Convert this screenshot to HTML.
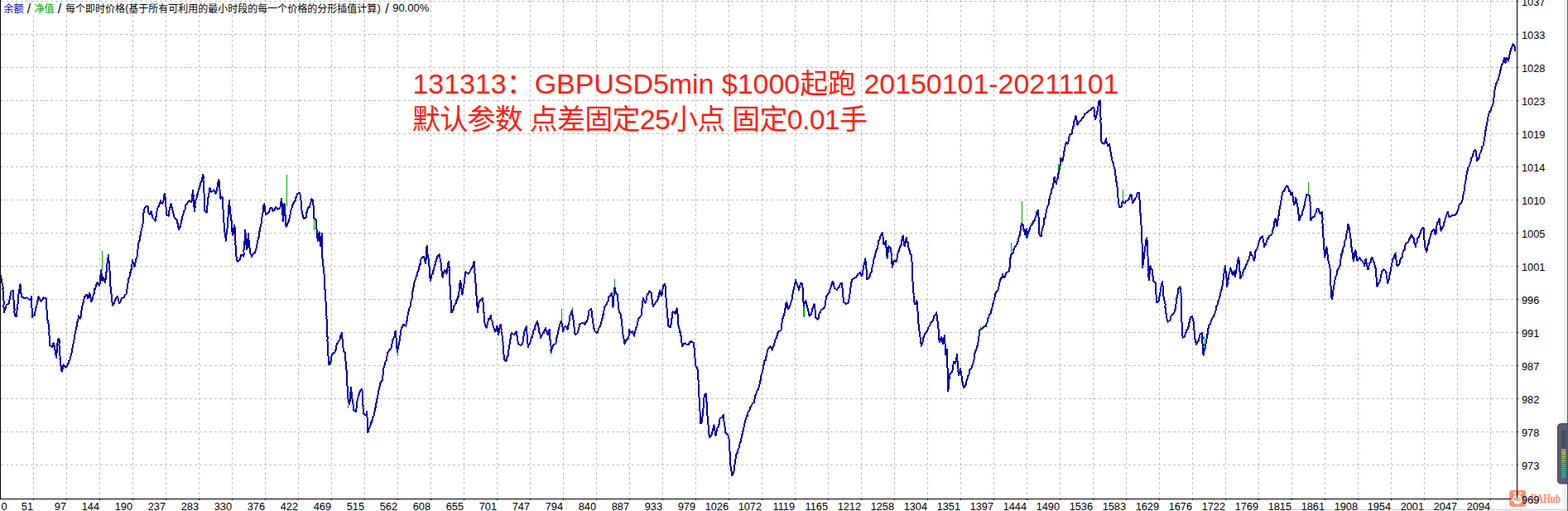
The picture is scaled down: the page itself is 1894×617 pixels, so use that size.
<!DOCTYPE html>
<html lang="zh"><head><meta charset="utf-8"><title>Strategy Tester Graph</title>
<style>
html,body{margin:0;padding:0;background:#fff}
body{width:1894px;height:617px;overflow:hidden;position:relative;font-family:"Liberation Sans",sans-serif}
svg{position:absolute;left:0;top:0;display:block}
text{font-family:"Liberation Sans",sans-serif}
.ax{font-size:12.8px;fill:#000}
.sr{position:absolute;left:0;top:0;color:transparent;font-size:1px;line-height:1px;white-space:nowrap;overflow:hidden;width:1px;height:1px}
</style></head><body>
<svg width="1894" height="617" viewBox="0 0 1894 617">
<rect width="1894" height="617" fill="#fff"/>
<path d="M40.5 0V602M80.5 0V602M120.5 0V602M160.5 0V602M200.5 0V602M240.5 0V602M280.5 0V602M320.5 0V602M360.5 0V602M400.5 0V602M440.5 0V602M480.5 0V602M520.5 0V602M560.5 0V602M600.5 0V602M640.5 0V602M680.5 0V602M720.5 0V602M760.5 0V602M800.5 0V602M840.5 0V602M880.5 0V602M920.5 0V602M960.5 0V602M1000.5 0V602M1040.5 0V602M1080.5 0V602M1120.5 0V602M1160.5 0V602M1200.5 0V602M1240.5 0V602M1280.5 0V602M1320.5 0V602M1360.5 0V602M1400.5 0V602M1440.5 0V602M1480.5 0V602M1520.5 0V602M1560.5 0V602M1600.5 0V602M1640.5 0V602M1680.5 0V602M1720.5 0V602M1760.5 0V602M1800.5 0V602" stroke="#c0c0c0" stroke-width="1" stroke-dasharray="3 3" fill="none" shape-rendering="crispEdges"/>
<path d="M1 1.5H1832M1 41.5H1832M1 81.5H1832M1 121.5H1832M1 161.5H1832M1 201.5H1832M1 241.5H1832M1 281.5H1832M1 321.5H1832M1 361.5H1832M1 401.5H1832M1 441.5H1832M1 481.5H1832M1 521.5H1832M1 561.5H1832" stroke="#c0c0c0" stroke-width="1" stroke-dasharray="3 3" fill="none" shape-rendering="crispEdges"/>
<rect x="1887" y="0" width="1" height="617" fill="#f0f0f0"/>
<rect x="1889" y="0" width="4" height="617" fill="#f0f0f0"/>
<rect x="1893" y="0" width="1" height="617" fill="#5c5c5c"/>
<rect x="1543" y="615" width="350" height="1" fill="#b9cde6"/>
<path d="M123.5 303.3V326.4M346.5 210.5V248.5M133.5 332.8V337M341.5 263.2V267.4M379.5 265.3V278M678.5 372.7V387.5M691.5 370.6V374.8M742.5 336.9V347.4M665.5 425.4V428.4M480.5 425.4V429.6M420.5 488.6V492.9M754.5 414.9V417M971.5 370V382.7M944.5 384V386.9M797.5 349V351.1M970.5 369.1V381.7M1091.5 282.7V286.9M1184.5 394.4V398.6M1221.5 293.2V308M1234.5 242.6V270M945.5 383.8V388.1M998.5 358.6V360.7M1278.5 197.8V211.7M1356.5 228.6V243.3M1580.5 221.4V232.8M1393.5 336V340.3M1621.5 303.6V308.6M1580.5 220V234.8M1620.5 302.2V306.4M1454.5 405.5V418.1M1686.5 303.5V306.4M1771.5 210.5V214.7" stroke="#00a800" stroke-width="1" fill="none" shape-rendering="crispEdges"/>
<path d="M0 326.4 0.1 328.6 0.4 331.7 1 333.9 1.4 335.4 1.7 337.8 2.1 341.2 2.5 341.7 3.4 345.4 3.7 347.5 3.4 349.2 4 352.4 3.8 354.6 3.7 357.7 4 359.7 4 360.5 4.5 363.1 4.5 365.1 4.5 368.3 4.4 370.3 4.6 371.6 4.9 375.1 5.1 377 5.7 374.2 6.2 372.6 7.1 371.8 7.6 368.6 10.5 366.5 11.1 363.1 11.7 361.7 11.9 360 12.3 358.5 13.2 353.9 13.5 351.7 16 350.9 16.1 352.5 16.4 354.6 16.4 358.4 16.4 361 16.7 363 16.8 365.1 17.2 367.9 17.2 369.5 17.3 371 17.6 374.5 17.3 377.2 17.7 378.7 17.7 381.2 19.8 382.1 20 378.9 20 377 20.6 374.6 20.5 372.6 21.1 370.9 21 368.1 21.5 366.8 21.7 365.2 21.7 361.9 21.9 360.2 22.5 357.5 22.4 356.3 22.8 352.3 23.4 350 23.6 348.3 24 344.7 24.4 343.3 24.8 345.5 25.1 349.1 25.4 350.7 25.3 353.5 26 356.4 26.1 358.1 29.5 360.2 32.9 359.3 35.8 362.3 37.1 361.6 37.9 358.1 38 360.1 38.2 361.9 38 364.1 38.2 366.7 38.2 369.2 38.4 370.9 38.7 373.4 39.1 375.5 38.8 379 39 380.6 39.2 383.4 40 380.7 41.5 380.5 42.1 377 42.8 374.8 43.3 371.2 44.3 370.7 44.5 367.9 44.9 366.3 45.8 362.2 45.7 360.6 46.4 358.1 47.8 361 49.7 363.5 51.5 361.5 52.7 359.3 55.6 360.2 55.9 363.2 55.8 364.3 56.1 366.4 56.3 369.4 56 371.3 56.6 374.6 56.6 377 56.7 379.2 56.7 380.3 56.5 382.9 56.9 385.5 57.5 386.5 58.4 390.2 59 393.9 59.1 397.1 59.6 399.4 59.3 401.8 59.4 402.6 59.5 404.9 60 408 59.9 410.8 60.2 412.7 60.2 413.9 60.3 417.1 63.2 419.2 64 418.2 64.5 414.1 65 417.4 65.7 417.5 66.3 420.4 66.6 423.4 67.1 428 68 428.6 68.3 431.8 68.2 429.9 68.4 426.4 68.9 425.6 69 421.7 69.1 421.1 69.2 417.5 69 414.7 69.5 414 69.5 410.7 71.2 408.6 71.6 411 71.7 413.1 71.4 416.2 71.6 417.3 71.9 419.6 71.9 422 72.3 424 72.1 426.7 72.5 429.5 72.6 431.5 72.5 433.9 72.9 436.4 72.9 438.9 73.4 441.2 74.1 442.8 74.2 445.6 74.6 448.7 75.3 446.7 76 442.4 76.7 440.3 78.8 443.6 80.7 442.1 82.2 440.3 82.9 436.6 83.4 435.1 84.2 435 85 432.1 85.6 429.7 86 428.8 86.6 425.2 87.2 422.4 87.6 419.7 88.3 417.3 88.5 415 89.2 413 89.3 411 90.2 407.9 90.2 406 90.9 402.2 91.2 399.7 91.9 398.1 92.4 394.8 93 393.9 93.3 390.2 93.4 388.8 94.3 386.8 94.7 383.1 94.8 381.2 96.9 384.6 97.4 381.9 98 381.8 98.2 376.2 98.5 375.2 99.1 372.8 99.5 369 99.8 368.4 100.6 365.1 101.2 362.3 102 358.3 103.1 358.5 104.1 356 105.5 356.4 106.2 360.2 107.3 358.1 107.9 353.8 108.4 355 109.3 357.4 109.6 360.9 110.4 364.4 111.3 362 111.6 361.4 112.6 356.7 113 356 113.8 353.6 114.2 349.1 115.1 348.8 115.9 345.4 117.2 341.7 118 341.2 119.3 343.8 120.1 345.4 120.6 342.2 120.9 339.8 120.8 338.2 121.4 336 121.2 333.1 121.6 331.2 121.8 328 122.2 326.4 122.3 328.1 122.6 331.1 122.9 334.6 123.1 336.6 123.5 339.1 124.1 336.4 125.2 334.9 125.6 336 126.6 340 127.3 341.2 127.5 338.2 127.5 337.3 127.9 334.7 128.3 331.7 128.3 329.1 128.8 327.4 129 324.3 129 322.2 129.4 320.2 129.6 317.1 129.8 314 130.5 311.5 130.5 309.5 131.1 307.5 131.4 309 131.5 313 131.4 314.2 131.7 316.6 131.8 318.7 132.3 321.2 132.2 325 132.3 326.4 132.8 328.2 132.6 330.7 132.7 332.3 133 335.6 133.1 337.3 133.1 339.3 133.4 341.7 133.3 343.9 133.6 346.7 133.9 349.6 134 351.7 134.4 354.6 134.7 357 134.7 358.7 134.8 362.3 135.3 364.2 135.7 365.3 135.7 368.6 136.9 368 138.2 365.3 139.1 362.3 140.6 358.8 142 358.1 142.9 360.9 143.6 364.8 144.2 366.5 145.2 364.7 146 363 146.7 360.2 149.6 359.3 150.8 356.2 152.6 355.1 152.8 352.1 153.4 349.7 153.6 348.4 153.9 346.2 153.8 343.6 154.5 342 154.7 339.1 155.4 337 155.8 335.5 156.6 333.7 157.2 329 158.1 328.6 158.2 326.6 159 324.1 159 321.2 159.6 318.7 159.9 316.8 160.2 313.8 160.6 317.2 161.4 318.1 162.3 322.2 162.9 320.5 163.5 317.2 164.4 312.7 165.2 311.7 165.6 309.6 165.7 307.2 166.1 304.5 166.2 302 166.6 300.4 167.3 298.2 167.3 294.8 167.8 291.5 168.6 290.7 168.6 287.5 169.5 284.6 169.8 282.2 170.2 279.7 170.7 278 171 277.1 171.8 273.9 172.4 271.5 172.8 267.4 173.3 264.4 172.9 262.5 173.4 259.1 173.5 257.5 173.8 254.4 174.1 252.7 176.2 249.9 177.9 248.5 178.7 249.2 178.9 255 179.9 258 180.4 259 181.3 258.4 182.5 254.8 183.1 257.1 184 262.3 184.6 263.2 186 264.4 187.6 266.6 187.7 263.9 188.6 261.2 189.1 259.3 189.1 256.9 189.5 255.2 190.4 252.6 190.5 250.6 191.5 249.9 192.5 246.9 193.1 245.9 193.9 242.1 194.7 245.1 196 246.4 196.7 244.4 197.5 241.7 198.1 237.9 198.5 235 199.4 233.7 199.3 236.9 199.6 238.3 200 240.2 199.8 243.9 200 245.5 200.2 247.6 200.2 249.1 200.8 251.5 200.6 254.4 201.2 257.5 201.1 259 203.6 261.1 203.9 258.5 204.3 255 204.8 253.1 205.4 250.3 206.3 249.1 206.5 246.4 207.2 250.1 208 251.7 208.6 254.8 209.2 257.1 209.9 258.8 210.7 263.2 213.7 265.3 214 269.5 214.8 270.1 215 273.8 215.6 273.9 216.2 277.1 216.9 274.3 217.9 274 218.2 271.3 219.2 267.4 219.9 263.1 220.3 263.9 220.6 260.2 221.8 256.9 222.1 254.8 223.2 253.9 223.7 252.4 224.5 247 225.5 246.4 227.1 244.3 228.5 242.1 231 244.3 231.5 242.7 231.8 239.6 232.1 236.8 232.6 233.5 233 231.4 233.1 229.5 233.1 232.1 233.2 233.4 233.7 236.7 233.4 237.9 233.9 241 233.8 243.1 233.9 245.8 234.3 247.5 234.6 251.1 234.6 253.3 234.8 254.8 235 251.8 235.6 250.8 235.5 247 236.3 245 236.4 242.3 236.9 240 237.8 238.6 238 234.8 239 233.7 239.6 230.3 240.2 228.8 241.1 225.3 241.9 224.3 242.3 221.1 243.2 219 243.8 217.9 244.4 214.6 245.3 210.5 245.6 212.2 245.8 214.6 245.4 217.2 245.7 218.8 246.1 221.9 245.9 223.1 246.3 225.5 245.9 227.5 246.2 229.6 246.6 233.5 246.8 235.3 246.5 238 246.9 238.7 246.5 242 246.8 244.1 246.9 245.7 246.8 247.5 247.1 249.9 247.1 253.5 247.4 254.8 249.5 256.9 249.6 255.5 250.2 251.9 250.3 250.4 250.6 246.5 251.1 244.8 251 242.1 251.1 241.1 251.6 237.9 252.3 235 252.4 233.7 253 228.3 253.7 227.4 254.6 231.1 255.8 231.6 258.4 229.5 259.7 232.6 260.5 233.7 261.1 230.3 262 229.8 262.6 225.3 263.3 221.6 263.6 219 264.3 216.9 264.6 218.2 264.8 222.3 264.6 224.7 265.1 225.6 265.6 229.4 265.4 230.5 265.7 232.9 265.8 236.3 266.3 238.3 266.4 240 268.5 237.9 268.8 240.8 268.7 242.6 268.8 244.3 268.8 247.5 269.3 248.6 269.1 250.9 269.5 252.7 269.9 255.6 270.1 258.9 269.6 259.9 270 261.9 270.1 265.3 270.3 266.6 270.6 269.6 270.6 271.7 271.1 274.5 270.9 276.7 271.3 279.4 271.6 281.3 271.7 284 272 285.4 272.7 287.6 272.7 290.6 272.9 288.4 273.5 285.7 273.3 283.5 273.9 281.8 273.8 279.7 274.5 276.3 274.8 274.7 274.8 271.7 274.9 268.5 275 266.4 275.4 265.8 275.4 263.4 275.6 261 276 257.6 275.7 256.7 276.2 253.7 276.2 250.7 276.3 248.2 276.7 246.2 276.6 244.7 276.9 242.1 277.1 243.5 277.2 247.2 277.4 248.8 277.9 252.1 277.9 253 278.4 256 278.3 258.8 278.9 260.2 279 263.2 279.1 265.4 279.8 267.5 279.8 269.9 279.9 272.3 280.5 275.7 280.3 277 280.5 280.1 281.1 281 281.1 284.3 281.8 281.6 282.2 279.1 282.2 276.6 282.9 273.2 283.2 271.7 283.6 274.2 283.6 275.3 283.6 278.1 283.6 279.9 284.2 282.9 284 284.3 284.4 287.9 284.1 289 284.7 292.7 284.3 294 284.6 297.1 284.9 299.3 284.8 301.4 284.9 303.6 285.4 305.1 285.4 307.5 285.6 311.5 286.1 312 286.6 315.9 289.6 313.8 290.3 311.8 291.1 308.2 292.1 307.5 294.2 309.6 294.6 307.8 294.5 304.2 294.4 303.3 294.6 301.2 295 298.5 295 296.3 295.3 293.6 295.5 291.4 295.5 289.2 295.8 286.1 295.7 284.7 296.2 283 296 280.2 296.3 278 296.2 280.2 296.6 281.9 296.8 284.1 296.7 287.3 296.9 289.8 297.5 292.4 297.2 294.2 297.6 296.5 297.6 299.7 298 301.2 298.6 299.5 298.7 296.9 299.1 293.4 299.3 291.7 299.1 290.1 299.8 287.5 299.8 283.7 300.1 282.2 300.1 285 300.3 287.7 300.5 289.8 301.1 291.6 300.9 293.3 301.1 296.3 301.2 297.7 301.9 300.2 301.8 303.3 302.7 306.3 303.4 306.8 303.9 310.4 305.8 306.4 307.7 305.4 308.3 303.3 309.2 301.5 310.1 297.8 310.6 294.8 311.4 291.6 311.5 290.3 311.9 288.2 312.6 286.2 313.2 282.5 313.3 280.3 314 278 314.1 276.1 314.6 273.9 315.4 271.1 315.6 268.7 315.6 265.7 316 262.8 316.6 261.6 317 259 317.6 256.5 317.6 253.2 317.9 251.7 318.6 247.9 319.1 246.4 319.4 248.1 320 250.9 320.2 254.1 320.7 256.7 321.2 259 324.6 256.9 325.8 253.4 326.3 251.7 327.5 250.6 328.6 251.2 329.6 254.8 331.5 253.7 333 249.7 335.9 252.7 338.5 250.6 338.7 247.6 339.4 243.5 339.6 242.9 340.1 240 340.3 242.6 340.6 245.5 340.8 246.4 340.7 248.3 340.7 251.3 341.2 252.9 341.2 255 341.1 259.2 341.5 260 341.6 262.9 341.5 265.8 341.8 267.4 341.9 264.7 342.4 261.9 342.5 261 342.8 257.1 342.7 256.2 342.9 253.9 342.9 250.5 343.1 248.2 343.5 246.4 343.8 248.3 344.1 251.3 343.9 253.6 344.2 255.6 344.4 258.4 344.7 259.6 344.6 263.3 344.6 265.4 344.9 266.4 345.5 269.7 345.3 272 345.6 273.8 346.5 273.1 347.8 268.6 348.6 267.4 349.2 265.4 349.9 263 350.3 259.7 350.8 258.1 351.1 254.8 352 252.4 352.5 250.8 353.4 247.4 354.1 246.4 355.8 242.7 357 242.1 357.4 238.7 358.5 236.4 358.7 235.2 359.5 233.7 362.5 232.9 362.4 234.1 363 237.6 363.3 239.8 363.4 240.8 363.7 243.6 364 246.7 364.2 247.4 364.4 251.2 364.2 251.8 364.6 254.8 364.8 255.6 365.8 260.8 366.4 262.3 366.7 264.1 369.7 262.4 370 260.5 370.4 256.1 371 256.3 371.6 252.3 372.2 250.6 374.3 249.7 374.7 245.5 375.5 244.1 375.8 242 376.4 240 378.1 242.1 378.2 245.4 378.4 247.5 378.5 248.2 378.8 251.4 378.9 253.6 378.8 256.3 378.8 259.3 379 261.5 379.3 263.2 381.5 265.3 381.5 266.6 382.1 270.5 382 271.2 382.4 274.5 382.4 276.2 382.8 278.8 383.1 280.9 382.8 283.3 383.2 286.4 383.5 287.5 383.6 290.6 384.3 286.4 384.8 286.1 385.1 283.2 385.7 280.1 385.8 282.3 385.8 285.7 385.9 288.1 386.2 289.1 386.6 292.9 387 294.3 386.9 296.9 387.3 294 387.8 292.1 388.1 290.1 388.2 286.8 388.9 284 389 282.2 389.2 284.8 389 286.1 389.1 289.6 389.1 290.5 389 294.3 389 295.2 389.4 298.5 389 299.7 389.1 302.2 389 305 389.1 306.9 389.3 309.5 389.6 312.8 390 313.4 389.9 315.7 390.4 319.8 390.4 321.7 390.8 322.9 390.7 325.1 390.9 328 391.4 330.6 391.7 332.6 391.7 335.5 391.8 337.6 392 338.9 392.2 341.6 392.2 344.9 392.5 346.5 392.3 348.4 392.9 351.3 392.9 353.6 393 356 393 357.8 393.3 359.4 393.3 361.2 393.5 364.3 393.7 367.1 393.5 369 393.8 370.8 393.8 373.5 394.2 375.8 394.2 377.1 394.1 380.5 394.6 382.1 394.4 383.5 394.6 385.9 394.6 389.7 394.7 390.3 394.9 393.4 395 395.6 395 398.4 395.3 399.8 395.2 402.2 395.4 403.9 395.5 406.5 395.8 408.2 395.3 410.9 395.6 412.9 395.7 414.6 396 417.7 395.8 419.8 396.2 421.8 396.2 425.4 396.4 426.2 396.2 428.8 396.6 430.5 396.6 434.1 396.7 435.6 397 437.4 396.9 440.2 399 439.3 399.5 436.4 400 435.8 400.1 432.1 400.4 430.1 401.1 427.5 404.4 425.4 405.1 424.1 405.8 421.5 406.5 417 407.4 414.9 408.7 412.5 410.3 410.7 411.1 406.7 411.5 405.6 412.2 403.6 412.9 402.2 413.1 404.4 413.2 407.2 413.7 410.1 413.8 410.7 414 414.8 414.2 415.6 413.9 418.9 414.6 420 414.6 423.3 416.7 425.4 416.7 428 416.8 429.2 417.4 431.7 417.2 434.2 417.7 437.6 418 438.5 418.1 441.6 418.3 444 418.5 446.5 418.5 447.6 418.7 450.6 418.8 452.8 419.1 455 418.9 457.5 419 459.1 419 461.9 419.2 464.1 419.6 466.4 419.9 468.8 420 470 420 473.2 420.3 475.8 420.2 477.5 420.1 481 420.5 482.3 421.4 486 422.1 488.6 422.4 485.4 422.8 484.3 423 481.3 422.9 479.3 422.8 477.7 423.3 475 423.7 471.9 423.6 469.6 423.8 467.6 424.3 470.1 424.4 471.9 424.7 474.8 424.8 478.1 425.2 480.5 425.5 482.3 425.7 484.9 426.5 487.4 426.7 490.2 426.8 492.1 427.2 495 429.7 497.1 430.2 494.3 430.6 492.6 431 489 431.2 488.4 431.5 484.3 431.8 481.9 432.4 481.3 432.7 478.1 433.6 476.6 434.2 475.4 434.8 471.8 437.3 469.7 437.5 472.2 437.6 474.6 437.5 476.8 437.8 479.1 437.7 481.5 437.8 482.7 438.5 486.1 438.3 488.1 438.7 490.7 438.5 492.5 438.7 494.2 438.8 496.5 439 499.2 441.5 501.3 442.6 499.7 443.2 497.1 443.4 498.5 443.2 500.7 443.6 504.6 443.7 507.1 443.7 507.6 444.2 511 444 514.1 443.9 515.3 444.1 518.1 444.1 519.4 444.5 522.4 445.3 518.4 446.2 516.7 446.9 514.5 447.4 513.9 447.8 510.4 448.6 510.5 449.3 508.5 450.3 503.8 450.8 503.4 451.6 501.7 451.7 499.2 452.7 496.3 453.4 493.1 453.8 490.7 454.5 487.4 454.5 486.7 455.3 481.5 455.5 482.1 456.4 477.7 456.7 476 457.4 472.2 457.5 470.9 458.3 467.9 458.8 465.6 459.2 463.4 460.7 459.9 461.8 459.1 462.1 456.5 462.2 454.6 462.7 451.7 462.9 450.4 462.8 447.2 463.5 443.8 463.5 442.3 464.5 440.9 465.2 437.4 466 436 466.8 435.1 467.1 431.1 468.1 427.8 468.5 425.4 470.3 422.8 471.9 421.2 472.9 419 473.2 417.1 474 411.4 474.8 410.7 475.6 407.7 476.5 406.6 477.2 401 477.8 400.1 478.2 403 478 404.9 478.5 407.7 478.8 409.7 478.5 411.3 479.1 414 479.3 415.6 479.2 419.4 479.6 421 479.5 423 479.9 425.4 480.6 421.8 480.9 421.3 481.7 415.9 482 414.9 482.2 413 483 410.2 483.1 408.4 483.5 405.2 483.6 402.2 484.3 399.8 484.5 398 485.6 395.4 486.5 393.4 487.5 391.7 490.4 393.8 490.6 390.6 491.2 389.7 491.8 385.4 491.9 384.3 492.5 381.2 493.1 378.9 493.5 376 494.7 371.5 495.1 370.6 495.6 369.6 495.9 366 496.5 364.3 497.2 362.5 497.8 359.5 498 355.9 498.2 353 498.7 350.5 499 347.8 499.9 346.3 500.4 343.7 500.3 342.2 501 339 501.8 337.3 502.9 333.4 503.5 332.7 504.3 329.1 505.2 328 505.6 325.4 506.4 322.1 507 319.3 508.2 318.7 508.4 313.2 509.4 311.6 511.9 309.5 512.5 311.4 513.6 316.7 514 317.9 514 316.3 514.5 313.8 514.9 311.2 514.6 307.7 515.2 306.7 515 304.2 515.5 301.7 515.4 298.4 515.7 296.9 515.7 298.7 516 301.5 516.2 303.4 516.4 306.6 516.7 309 517.4 310 517.6 312.7 517.8 316.3 517.8 317.9 518 319.6 518.6 321.8 518.6 325.6 518.7 327.2 519 330.3 519 332.2 519.2 333.8 519.7 337.1 519.9 339 520.8 335.6 521.1 333.9 521.7 331.4 522.5 330.6 523.1 329.2 523.9 324 524.9 322 525.4 320 526.4 315.9 527.1 313.1 527.5 312.8 528.4 309.5 530.9 307.4 531.1 309.8 531.4 311.8 532.2 314.5 532.6 318.2 532.5 318.9 533 322.1 533.1 325.5 533.6 327.7 533.7 330.7 534.3 332.9 534.7 334.8 535.1 330.6 536.1 330.4 536.8 326.4 538 327.3 539.3 330.6 539.6 329.7 540.1 325.9 541 322 541.1 321.5 541.5 316.7 542.3 315.8 542.4 318.3 542.3 319.9 542.7 322.8 542.7 325.5 542.5 326.5 542.8 329.8 542.6 332.1 542.9 334.5 543.3 336.8 542.9 338.4 543.3 341.5 543.2 343.7 543.6 344.6 543.5 347.4 543.5 349.4 543.9 351.7 543.9 353.3 544.1 356.4 544.3 358 544.5 361.7 544.6 363 544.7 365.4 544.9 367 544.8 371 545 372.4 544.8 374.7 545.2 376.9 546.3 376.6 547.8 372.7 548.5 369.4 549.9 367.6 550.7 366.4 551.2 362.5 552 362.9 553 358.3 553.7 358 554 355.8 554.1 353.6 554.7 351.6 554.7 347.6 555.2 346.1 555.3 343.3 555.7 341.2 556.2 339 556.7 341.6 556.8 343.1 556.9 346.7 557.7 349.3 557.6 350.8 558 354.1 558.3 355.9 559 353.1 559 351.4 559.5 347.8 560.3 345.6 560.4 343.2 561 341.4 561.3 338.9 561.5 335 562.1 334.3 562.1 330.4 562.5 328.5 565.5 330.6 566.9 329 568.4 326.4 569.4 324.4 570.9 322.1 571.8 318.7 572.6 315.8 572.6 317.2 573.1 321.3 573.2 323.6 573.6 325.6 573.2 328 573.5 329.8 573.7 332.2 574.3 334.2 574.1 336.6 574.3 338.7 574.4 341.8 574.7 343.2 575 345.1 575.1 347 575.2 350.9 575.3 351.8 575.2 354.5 575.4 356 575.7 358.5 575.7 360.8 576 362.6 576.2 366.4 576.4 368.1 576.5 369.6 576.6 372.4 576.7 374.9 576.8 376.9 577.1 374 577.7 371.3 578.2 369.1 578.4 365.9 578.9 364.3 581.1 362.2 583.2 360.1 583.2 363.1 583.5 364.7 583.9 366.5 584 368.8 583.7 370.7 584.1 374.4 584.2 375.1 584.6 378.1 584.5 379.7 584.9 383.7 584.8 384.4 585.2 387 585.3 389.6 586.2 392.1 586.7 395 587.4 395.9 588.2 394.2 588.6 391.6 589.4 389.1 589.9 385.4 591.2 384.8 592.9 381.2 593.1 385.1 594.1 387.2 594.9 388.7 595.2 391.5 595.8 393.8 596.9 397 597.4 398.4 598.3 400.1 599 397.8 599.6 396.8 600.4 393.8 600.9 396 601.2 398.6 601.9 402.8 602.1 404.3 602.6 401.8 603 398.1 603.7 395.4 603.9 394.5 604.7 391.7 604.9 395 605.6 397.3 605.5 400 606.3 401.4 606.1 403 606.8 406.4 606.9 408.9 607.3 411.9 607.6 413.4 607.5 415.6 607.6 418.2 607.9 419.9 608.3 422.1 608.2 425.1 608.3 426.2 608.6 429.1 608.9 431.7 608.9 433.8 611 436 611.7 435.6 612.5 431.5 613.1 431.5 613.9 427.5 614.4 425.2 614.4 422 615 421.3 614.9 417.9 615.5 416.3 616 413.7 616 410.7 616.7 409.3 617.3 403.7 618.1 402.2 621.1 404.3 622.4 402.3 623.6 400.1 623.8 402 624.4 405.3 625 407.2 624.8 410.2 625.6 412.2 625.7 414.9 628.7 417 631.2 414.9 631.7 412.1 631.8 409.1 632.3 408.3 632.5 405.6 633.1 402.8 633.5 400 633.7 398 635.1 396 635.8 393.8 636 396.3 636 397.6 636.2 401.2 636.4 402.2 637 405.3 637.2 407.8 636.9 409 637.3 412.7 637.5 414.9 637.6 416.1 638 419.1 639 415.5 639.6 415.2 640.5 412.8 641.2 410.5 642.2 406.9 643 406.8 643.4 404.3 644.2 401.5 644.6 398.1 645.9 398.1 646.4 393.8 647.5 391 648 390.8 648.9 387.5 649.7 390.5 650.2 392.7 650.4 394.4 651 398 651.4 401.5 652.3 402.6 652.8 405.9 653.1 408.6 653.9 405.5 654.9 403.8 656.1 402.2 656.9 401.9 657.8 398.3 659 395.9 659.6 398.1 660 399.8 661.1 400.8 661.6 404.3 662.1 401.7 662.8 399 663.7 398 663.6 399.8 663.9 402.9 664.3 404.2 664.2 406.3 664.3 410.1 664.9 411.6 664.7 414.6 665.2 416 665.5 418.3 665.7 420.3 665.4 423.1 665.8 425.4 666.3 422.4 667 420.6 667.9 417 670.8 414.9 671.5 413.9 671.9 409.3 672.4 407.7 673 406.2 673.8 402.2 674.4 399.6 675.2 396.1 675.8 393.9 676.3 391.7 677 389.8 678 387.5 678.2 389.8 679.1 391.9 679.4 394.7 679.7 396.8 680.1 400.1 680.9 397.5 681.5 395.1 682.6 393.8 683.9 395.2 685.6 398 686.1 394.9 686.4 392.8 687 391.6 687.5 389.2 687.6 385.2 688.2 382.6 688.5 381.2 689.3 379.7 690.3 376.6 691.1 374.8 691.2 377.7 691.5 380.4 691.7 382.5 692.4 383.9 692.6 387.6 692.8 389.6 692.8 391.1 693.3 393.8 693.7 396.6 694 398.5 694.3 402.2 694.9 404.3 697.4 402.2 698.2 400.9 698.7 397.8 699.7 394.1 700.3 391.7 703.7 389.6 706.7 391.7 707.3 389 708.8 388.8 709.6 385.4 709.9 381.9 710.7 381.5 711 375.8 711.7 374.8 713.8 372.7 714.4 374.4 714.8 377.1 714.6 380.6 715.2 383 715.8 385.5 715.9 387.5 716.2 389.2 716.9 394.2 717.6 396.7 718.2 398.5 718.5 400.1 721.4 402.2 722.2 400.6 723.2 396.3 723.9 395.6 724.8 393.8 725.3 392.8 726 389.5 727.2 386.7 727.7 383.3 728.4 379.8 729 380 729.4 375.8 730 371.5 730.7 370.6 731.8 368.2 733.2 366.4 733.7 363.6 734.8 363 735.3 359.1 736.2 358 737.6 355.9 739.1 353.8 739.2 357 739.7 358.2 739.7 360.3 740 363.1 740.2 365.9 740.3 367.6 740.4 370.6 740.6 368.5 741 366.5 740.9 362.9 741 361.1 741.3 358.2 741.8 356.1 741.6 354.3 742 351.7 742.1 349.5 742.5 347.4 742.8 349 743.8 353.8 745.9 355.9 746.2 359.2 746.4 359.7 746.5 363.9 746.6 364.5 746.6 367.4 746.7 370 747.3 373.1 747.6 374.9 747.5 376.9 749.7 379.1 749.8 381.7 750 383.3 750.6 385.2 750.6 389.2 751.1 390.3 751.5 394 751.7 395 751.8 398 752.3 401.1 752.3 402.5 752.7 405.9 753.2 407.4 753.8 409.8 753.7 411.9 754.3 414.9 755.4 413 756.4 410.7 758 409.8 759.3 406.4 759.8 405 759.7 401.9 759.7 399 760 397.4 760.8 399.9 762.1 401.7 764.2 399.5 764.7 402.4 765.9 403.5 766.3 405.9 766.6 401.7 767.2 400.4 767.6 398.8 768.4 395.3 769.4 394 769.9 391.2 770.7 386.6 771.4 384.8 773 382.7 774.8 380.6 774.9 377.9 775.4 376.2 775.3 374.4 775.7 370.8 775.8 369 775.9 365.9 776.4 363.8 776.9 362.8 776.9 359.5 778.1 363 778.9 365.5 779.8 365.8 780.1 364.4 780.9 361.2 781.4 357.2 781.9 355.3 783.2 354.9 784.4 351.1 786.6 353.2 786.7 355.9 787.4 357.7 787.3 359.5 787.7 363.2 788.2 364.4 788.4 367.4 788.7 370 790.2 367.6 791.6 365.8 793 364 794.6 361.6 795 357.5 795.9 357.8 796.7 352.2 797.1 351.1 797.6 352.2 798.3 355.4 799.2 357.4 799.7 354.8 800.1 351.8 800.5 349 800.6 347.5 801.3 344.8 803.4 342.6 803.3 344.8 803.9 347.1 804 349.6 803.8 352.4 804.3 355.1 804.5 355.6 804.3 358.5 804.7 362 804.6 363.9 804.7 366.2 805.1 367.9 805.2 369.7 805.5 371.6 805.6 374.3 805.8 377.5 806.1 380.2 806.3 382.5 806.7 384.9 806.8 385.7 807 388.3 807.2 391.3 807.2 393.2 809.7 395.3 810 392.2 810.7 391.1 810.6 388.7 811 386.1 811.8 383.6 812.2 380.3 812.2 379.1 812.7 376.4 815.6 378.5 816.3 375.2 817.1 375.5 817.7 372.1 817.7 373.7 818.3 376 818.4 378.5 818.7 381 818.6 383.5 819 386.8 819.4 388.8 819.1 391.6 819.4 392.7 819.9 395.3 820.7 397.4 820.8 400.7 821.9 400.4 822.4 403.8 822.6 406.6 822.7 408.6 823.2 411.8 823.6 414.3 823.7 415.2 824.1 418.5 826 415.3 827.4 414.3 829.3 415.7 831.7 416.4 833.3 413 835 412.2 838 414.3 838.2 416.5 838.3 418.7 838.6 420.2 838.5 423.2 839.2 425.7 838.9 427.2 839.2 430.7 839.5 432.2 839.7 434.5 840.2 437.3 840.1 439.6 840.9 443.6 842.2 443.8 842.5 446.2 842.7 449.1 842.8 450.9 842.7 452.6 843.2 455.7 843.3 458.3 843.5 459.3 843.5 462.4 843.6 464.5 843.8 466.6 843.9 467.9 844.4 470.7 844.3 473.3 844.3 475.5 844.4 477.3 844.5 479.7 845 481.2 844.9 484.4 844.9 486.8 844.9 488.3 845.2 490.8 845.4 493.8 845.4 496.5 845.7 498.7 845.6 499.2 846.2 502.5 846.2 504.3 846.4 506.6 846.3 508.1 846.4 511.2 847.3 510.7 848.5 507 848.4 504.3 848.7 501.8 848.8 500.6 849 497.7 849.5 495.9 849.3 493.7 849.9 491.6 849.6 489.1 850.2 487.2 849.9 484 850.3 481.4 850.5 480.5 850.6 477.5 852.7 475.4 852.7 478.5 853.2 479.6 853.2 482.6 853.3 484.9 853.6 485.9 853.9 488.2 854 491.1 854 493.9 854 495.9 854.5 499.1 854.4 501.5 854.8 502.8 855.2 505.3 855 507.1 855.2 509 855.4 512.5 855.7 514.9 856 516.7 856.3 519 856.3 521.4 856.4 524 856.9 526.2 856.9 528.1 858 527 859.5 524.9 860.3 521.8 860.9 518.8 862 516.2 862.4 513.4 862.6 515.1 863.4 518.4 863.6 521.5 863.9 524.4 864.5 526 865 524.3 865.8 518.9 866.7 516.4 867.5 515.5 868 513 868.9 511.9 869.5 506.2 870.4 504.9 872.4 503.7 873.8 500.7 873.8 502.4 874.1 505.9 874.5 508.7 874.6 510.3 875 513 875.5 514.4 875.6 516.3 875.8 518.6 875.9 521.8 878 523.9 879.1 525.6 879.7 526.4 880.5 530.2 880.9 532.3 880.9 535.6 880.8 536.4 881 538.8 881 541 881.4 544.3 881.7 545.6 881.6 547.7 881.8 549.8 881.6 553.5 882.1 555.6 881.9 556.9 882.3 559.5 882.2 561.8 882.8 563.7 883 567.1 883.7 569.6 884.2 571.4 884.3 574.5 885.6 571.8 886.4 570.3 886.6 568.6 887.3 566.2 887.1 562.6 887.9 559.8 888.2 557.2 888.4 555.1 888.6 553.4 889.1 549.2 889.8 548.8 891 544.9 891.5 542.9 892.4 541.6 892.6 540.5 893.7 535.5 893.9 535.1 894.9 532.3 895.3 529.9 895.8 527.1 896.9 523.1 897.4 521.8 897.7 518.6 898.3 517.6 898.8 513.7 899.5 511.3 900.2 508.6 900.4 507.5 901.2 504.9 901.9 502.3 902.6 502.3 903.7 497.5 904.2 496.5 905.4 495.8 906.2 491.4 907.5 490.2 909 487.2 910.9 486 911.5 481.7 912.1 480.5 912.4 477.8 913.3 476.6 913.8 473.3 914.9 471.4 916.1 469.8 916.8 467 917.4 465.9 917.7 461.5 918.6 459.1 918.8 456.4 919.3 454.3 919.7 451.5 920.2 451.2 921.4 447.2 921.8 443.3 922.3 441.7 922.9 438.6 923.5 435.3 924.7 435.1 925.2 431.2 925.6 430.1 926.4 426.6 927.2 423.8 927.8 420.6 930.7 418.5 932 419.9 932.8 422.7 933.7 418.2 934.3 418.8 935.3 415.2 935.8 412.2 936.7 409.1 937.4 408.9 938.2 406.7 939.1 403.8 940 400.7 943.4 398.6 943.8 396.1 943.9 393.9 944.4 391.3 944.8 387.9 945.1 386 945.9 383 946.5 381.6 946.9 379.7 947.6 377.5 947.8 374.4 948.4 373.3 948.9 370 949.1 368 949.7 364.9 950.6 366.4 951.2 370.3 951.8 373.3 953 372.4 953.5 370.5 954.8 367 955.7 364.4 955.9 364 956.9 360.7 957.1 357.4 957.6 354.8 958.1 353.7 958.3 350.5 959 348 959.8 345 960 343.5 960.7 340 961.1 337.5 961.6 340.6 962.4 342.4 963.2 343.8 963.7 346 964.5 347.5 965.3 350.1 965.7 346.9 966.7 343.4 967.4 341.7 969.5 343.8 969.4 345.2 969.6 348.8 969.7 350.3 969.7 353.7 970.3 355.6 970.1 357 970.4 360.5 970.2 361.9 970.5 364.4 970.5 367.2 970.8 369.1 971.6 366.6 972.1 366.1 972.9 362.8 973.6 364.4 974.1 368.6 975 369.1 975.7 373.4 976.3 373.7 976.5 376 977.3 380.2 977.9 381.7 978.9 379.7 980.1 379 980.9 375.4 981.6 371.5 982.1 371.1 982.7 370.4 983.4 367 983.9 369.3 984 371.7 984.5 374.2 984.8 377 984.6 378.8 985.3 381.8 985.5 383.8 987.6 386 988.5 384.9 988.9 380.3 990 378 990.6 377.5 991.8 373.9 993.5 373.3 996.1 371.2 996.5 369.5 997 364.2 997.3 364.1 997.7 360.7 998.7 356.9 999.5 356.1 1000.3 354.3 1001.4 354.1 1002 351.5 1003.2 348 1004 345.3 1005 341.9 1005.3 340.8 1006.2 339.6 1006.7 341.7 1007.6 346.6 1008.3 348 1010.8 350.1 1012.2 348.1 1013.8 345.9 1015.3 342.1 1017.1 341.7 1017.5 344.7 1017.4 347 1017.5 348.1 1017.9 351 1018.2 353.2 1018.3 355.8 1018.4 358.5 1018.9 361.1 1018.9 361.7 1019.2 364.9 1022.2 367 1025.1 364.9 1025.4 362.5 1025.6 360.2 1026.2 357.2 1026.5 354.8 1026.7 353.4 1027.2 350.3 1027.2 348 1028 345.2 1028.3 341.1 1028.6 340.6 1029.4 337.5 1032.7 335.4 1034.2 334.6 1036.1 331.2 1039.1 329.1 1039.9 331.5 1041.2 333.3 1041.6 331.6 1042 328.8 1042.5 326 1042.7 322.7 1043.3 320.6 1043.8 319.1 1044.5 316.6 1045.4 312.2 1045.3 313.7 1046 317.4 1046 318.9 1046.4 320.9 1046.1 324.1 1046.6 325.1 1046.9 327.4 1046.7 330.2 1047 333 1047.1 335.3 1047.5 337.5 1049.6 335.4 1050.2 334.8 1050.8 332.5 1051.7 329.1 1052.7 328.1 1052.8 324.4 1053.8 322.7 1054.4 319.6 1054.9 316.4 1055.4 313.3 1055.9 312.2 1056.6 310.2 1057.1 307.3 1058 303.8 1058.5 302.4 1059.8 300.1 1060.2 297.5 1061 293.2 1061.5 290.3 1062.2 290 1062.6 288.5 1063.5 284.8 1064.8 282.6 1065.6 280.6 1066 283.2 1066.1 284.7 1066.9 287.5 1066.8 291.1 1067.1 293.7 1067.7 295.3 1069 293.6 1069.8 291.1 1070.3 293.1 1069.9 296.1 1070.4 297.8 1070.7 300 1070.9 302.2 1070.7 304.8 1070.9 307.6 1071.5 310 1071.5 312.2 1071.8 309.9 1072.2 306.3 1072.6 304 1073 301.6 1073.2 299.6 1073.6 297.4 1075.7 299.5 1075.7 302.2 1076.4 303.5 1076.6 306.2 1076.6 309.6 1076.5 310.4 1076.8 314.2 1077.2 315.8 1077.4 317.3 1077.6 319.7 1077.8 322.7 1078.4 320.6 1079 317.4 1079.5 315.3 1080.4 314.3 1082.5 316.4 1083.2 312.8 1083.8 311.1 1084.3 306.7 1084.6 305.9 1085.5 303.7 1086.1 301.9 1086.7 299.5 1087.9 296.4 1088.8 295.3 1089.1 291.4 1089.6 288.3 1089.9 287.5 1090.5 284.8 1090.6 288.1 1091.2 290 1091.9 292.6 1091.9 295.3 1092.6 297.4 1093.2 293.8 1093.4 294 1094.3 290 1094.7 286.9 1095.3 290.2 1096.1 292.3 1096.8 293.2 1096.9 296.6 1097.6 299.2 1097.8 300.6 1098.6 302.8 1098.9 305.9 1101 308 1100.9 310.6 1101 312.2 1101.2 314.2 1101.7 316.8 1101.7 320.4 1101.6 321.6 1102 324.5 1101.9 326.7 1102 327.9 1102.2 331.5 1102.3 332.3 1102.3 335.4 1102.2 337.4 1102.7 341 1102.5 342.9 1103.1 345.4 1103.1 347.9 1103.3 350.1 1103.2 351.9 1103.6 354.8 1103.5 356.4 1103.8 360.5 1104.4 363.5 1104.6 366 1105.2 367 1106.5 366.7 1107.3 362.8 1107.7 364.6 1107.5 366.8 1107.7 369.5 1108.3 371.9 1108.3 374.6 1108.6 376.3 1108.7 379.3 1108.9 381.9 1108.7 383.1 1109.3 385.9 1109.3 387.6 1109.4 390.2 1109.9 393.2 1110 394 1110.1 396.4 1110.6 400.4 1110.9 402.4 1111.1 404.3 1111.5 407 1112.1 409.4 1112.1 412.5 1112.4 414.1 1112.8 417.6 1113.5 415.7 1114.5 412.9 1115.1 408.2 1115.8 407 1117.1 403.2 1117.9 401.6 1119.1 400.7 1120 400.3 1121.3 395.4 1122.1 394.4 1123.4 392.7 1124.3 389.8 1125.5 388.1 1126.4 387.7 1127.2 385.7 1128.4 381.7 1129.7 380.9 1131.4 377.5 1131.3 380 1132.1 381.7 1132.3 384.7 1132.2 386.7 1132.6 388.8 1132.8 392.7 1133 394.4 1133.5 396.5 1133.6 399.9 1133.8 400.6 1134.2 403.8 1134.2 406 1134.2 408.9 1134.6 411 1134.7 413.4 1135.4 412.8 1136.4 408.6 1136.8 407 1137.7 408.2 1138.3 413.3 1138.9 415.5 1139.6 412.6 1140.1 411.7 1140.2 408.5 1141.1 404.9 1141 406.9 1141.5 410.5 1141.5 411.2 1141.3 414.3 1141.8 416.3 1141.7 419.1 1141.8 421.7 1142 423.6 1142.3 426.7 1142.3 428.1 1143.3 426.1 1144 421.8 1144.3 423.8 1144.2 426.8 1144 428.2 1144.4 431.1 1144.2 433.9 1144.4 434.9 1144.2 438.6 1144.3 440.7 1144.3 442.1 1144.5 444.4 1144.9 448 1144.6 448.7 1144.6 452.6 1144.8 453.6 1144.7 455.5 1144.9 458.4 1144.8 461.8 1145.3 462.6 1145.3 465.4 1145.3 468 1145 469.7 1145.3 472.4 1145.5 470.5 1145.8 467.8 1145.8 465.8 1146.5 462.7 1146.3 460.7 1146.5 458.6 1146.6 456.5 1147.2 454.3 1147.4 451.3 1149.9 449.2 1150.6 446.4 1150.6 443.7 1151.2 440.7 1151.7 439.6 1152 436.5 1154.1 438.6 1154.7 435.7 1154.8 431.9 1155.7 431.3 1155.8 428.1 1156.1 430.7 1156.1 433.3 1156.5 435.9 1156.5 437 1156.7 440.2 1157.2 441.3 1157.2 444.3 1157.6 446.8 1157.4 448.1 1157.7 450.2 1157.9 453.4 1158.8 450.6 1159.4 448.4 1160 445 1160.4 447.2 1160.9 449.4 1161.3 452.9 1161.5 454.1 1161.8 457.8 1162.1 459.7 1163.1 464 1163.7 466.3 1164.2 468.1 1165.7 466.6 1166.8 463.9 1167.6 459.9 1168.3 459.4 1168.7 455.2 1169.7 453.4 1170.6 451.7 1171 448.3 1171.7 446 1172.7 445 1173.8 443.5 1174.3 441.9 1174.9 439.4 1176 436.5 1176.4 434.7 1177 430.5 1177.2 428.2 1177.7 425.5 1178.1 423.9 1179.3 422 1180.3 417.9 1181.1 417.6 1181.2 414.4 1181.5 413.1 1181.9 410.1 1182.3 407.5 1182.6 405.1 1182.7 404 1183.1 400 1183.2 398.6 1186.6 396.5 1188.7 393.6 1190.8 394.4 1191.3 391.5 1192.4 389.6 1192.9 386.8 1193.7 383.8 1194.6 381.8 1195.6 378.6 1196.5 379.4 1197.1 375.4 1197.7 374.5 1198.3 372 1199.1 367.4 1200.1 364.9 1200.8 362.1 1201.3 360.4 1201.8 356.4 1202.6 354.3 1203.9 351.9 1205.5 350.1 1206.3 346.4 1206.7 345.1 1207.4 341.4 1207.8 338.9 1208.5 337.5 1209.5 335.6 1210.3 335.1 1211 331.2 1212.3 335 1213.1 335.4 1214.2 334.1 1214.9 329.5 1216.1 329.1 1219 326.9 1219.5 323.6 1219.6 322.6 1219.7 319.4 1220.2 316.8 1220.2 316.1 1220.4 311.8 1221.1 310.1 1221.1 308 1223.2 305.9 1224.1 304.9 1224.7 300.1 1225.9 298.2 1226.6 297.4 1227.9 295.2 1228.8 294.8 1229.6 291.1 1230.4 288.9 1230.6 285.5 1231.5 285 1232.1 282.7 1232.3 279.6 1233 276.7 1233.4 275.5 1233.4 273.5 1233.8 270 1235.9 272.1 1236.3 275.7 1237.1 278.6 1237.2 278.7 1238 282.7 1238.8 279.5 1239.1 278 1240.1 276.4 1240.3 279.3 1239.8 280.8 1240.1 283.9 1239.9 284.5 1240 287.6 1240.9 285.9 1241.5 283.3 1242.1 281.2 1242.7 278 1243.4 278.6 1244.2 274.9 1245.7 271.3 1247.2 270.7 1248.2 267.2 1249.7 266.5 1250.4 263.5 1251.2 261.4 1251.8 258.1 1252.6 255.7 1253.9 253.8 1253.8 256.6 1254.1 258.3 1254.4 261 1254.5 262.4 1254.5 265.6 1254.9 266.7 1254.6 269.9 1255.2 271.5 1255 273.7 1255.4 277.1 1255.5 279.1 1255.2 280.2 1255.6 283.4 1257.7 285.5 1258.3 283.9 1258.3 279.5 1259.2 277.4 1259.5 274.8 1259.8 272.8 1260.5 272 1260.8 269.5 1261.2 264.1 1261.8 264 1262.7 262.3 1263.2 258.1 1264.1 254.2 1264.7 251.5 1265.6 248.7 1266.1 247.5 1266.9 246.5 1267.4 240.6 1267.8 240.1 1268.2 237.4 1268.7 234.9 1269.6 233.1 1269.9 229.1 1270.7 228.7 1271.6 226.4 1271.7 223.7 1272.2 221.9 1273.1 219.5 1273.1 216.2 1273.7 213.8 1274.2 217.2 1274.9 219.2 1275.8 222.2 1276.4 221.4 1276.6 216.4 1277.6 215.2 1277.9 211.7 1278.4 210.2 1279.2 205.6 1280 203.3 1280.1 201.3 1280.8 198.4 1280.5 196.2 1280.8 192.3 1281.3 190.6 1282.4 193.5 1283.4 194.8 1283.8 192.3 1284.3 189.6 1284.9 187.5 1285.3 185.2 1285.5 182.2 1286.3 181.1 1286.3 177.7 1287.3 175 1287.6 171.7 1289.7 173.8 1290.5 170.9 1291.1 167.3 1291.4 165.6 1291.8 163.2 1294.8 161.1 1295.1 158.2 1295.5 155.9 1296 152.9 1296.6 152.2 1297.1 149.7 1297.3 146.4 1298.3 145.5 1298.6 143.1 1299.4 140 1299.9 141.7 1300.3 143.5 1301.3 149.4 1301.5 150.6 1303 147.8 1304.1 146.4 1306 145.3 1307.4 142.1 1308.9 141.2 1310.4 137.9 1312.9 135.8 1315.9 133.7 1318.8 131.6 1320.9 129.5 1321.5 131.2 1321.7 134 1322 136.6 1322.1 140.3 1322.8 141.9 1323 144.3 1324 141.6 1324.7 138.3 1325.1 135.8 1325.8 133.7 1325.8 129.9 1326.7 127.8 1326.7 124.7 1327.2 123.2 1328.5 121.1 1328.9 123.8 1328.7 125 1328.9 128.3 1329.1 130.6 1328.9 131.9 1329.2 133.7 1329.1 136.4 1329.4 140.2 1329.5 141.7 1329.6 144 1329.3 145.6 1329.4 147.4 1329.8 150.6 1329.7 152.6 1330 154.5 1330.2 158.5 1330.3 159.5 1330 161.6 1330.3 164.2 1330.4 167.4 1330.3 169.8 1330.6 171.7 1333.6 173.8 1334.3 173.3 1335 170.8 1336.1 167.4 1336.6 171.5 1337.7 174.4 1338.2 175.9 1340.3 173.8 1340.5 176.6 1340.8 177.7 1341.2 181.9 1341.8 183.9 1341.9 186.4 1342.4 188.5 1342.9 189.8 1343.8 195.6 1344.7 197 1345.4 199.1 1345.5 201 1346.4 203.1 1346.9 205.9 1347.2 208.9 1347.5 211.7 1348 213.4 1348.1 216.1 1348.3 219.1 1349.1 221 1349.2 223.6 1349.6 226.4 1349.6 229.3 1349.8 230.5 1350.1 233.2 1350.4 236 1350.4 238.8 1351.1 240.7 1350.8 242.1 1351 244.9 1351.6 247.2 1351.7 249.6 1354.6 249.6 1355 244.9 1355.9 243.3 1358.9 245.4 1360 243.2 1363.4 241.1 1364.2 238.9 1365.3 235.8 1366.3 234.8 1366.6 235.9 1367.4 239.5 1367.9 244.3 1368.4 245.3 1369.2 241.6 1370.4 242 1371.4 239 1372.5 238.3 1372.8 236.1 1373.9 232.6 1376 232.6 1376.2 235.8 1376.1 236.7 1376.3 240.3 1376.5 241 1376.8 245 1376.7 246.9 1377 248.6 1377.3 250.4 1377.2 253.1 1377.5 256.6 1377.7 257.9 1377.5 259.6 1377.9 262.8 1378 263.9 1378.2 267.6 1378.3 268.9 1378.5 271.9 1378.7 273.3 1378.8 277.2 1378.7 279.3 1378.7 281.7 1379 283.2 1379.1 284.9 1378.9 288.5 1378.9 289.3 1379 292 1379.5 293.7 1379.7 296.7 1379.6 298.6 1379.8 300 1379.6 302.7 1379.9 305.5 1380 307.7 1379.6 310.2 1379.7 312.8 1379.9 315.4 1380.3 316 1380 318.5 1380.3 320.7 1380.2 323.3 1380.5 319.8 1381.1 317.5 1381.3 314.7 1381.6 312.7 1381.9 310.6 1382.3 308.3 1382.3 305 1383 302.5 1382.8 300.1 1383.4 298.4 1383.6 295.9 1383.9 294.5 1384.5 289.2 1385.3 287.4 1385.4 289.9 1385.8 291.9 1385.9 294.7 1385.6 297.5 1385.8 299.8 1386.2 300.3 1385.8 302.7 1386.1 305.4 1386.5 309.1 1386.5 310.3 1386.6 312.7 1386.9 315.7 1386.8 317.6 1386.7 318.9 1387.1 322.2 1387.4 324.8 1387.1 327.4 1387.6 328 1387.3 331.3 1387.4 333.8 1387.6 335.2 1387.8 338 1388.2 335.7 1388.4 332.3 1388.5 331 1389 328.7 1389 325 1389.4 323.9 1389.5 321.2 1390.4 323.8 1391.6 325.4 1392.1 328.7 1392.3 329.8 1392.5 333.7 1393.3 335 1393.2 338.5 1393.7 340.1 1395.8 342.2 1395.9 345 1396.2 347.2 1396 348.4 1396.2 350.9 1396.2 352.9 1396.5 356 1396.8 357.6 1396.9 361.7 1397.1 362.8 1397.1 365.4 1400 363.3 1400.1 360.8 1400.4 358.5 1400.7 356.4 1401.5 353.4 1401.7 351.8 1401.9 349.1 1402.1 346.4 1403.1 345.1 1403.7 341.1 1404.3 340.1 1404.3 342.1 1404.6 345.5 1404.9 347.9 1404.6 349.7 1405 350.9 1405 354.6 1404.9 355.7 1405.5 358.2 1405.5 361.2 1406.2 361.4 1407.2 365.4 1407.6 367.4 1407.4 371.2 1408.2 371.9 1408 376 1408.4 377.1 1408.6 379.5 1408.9 382.3 1409.6 385.4 1410.6 388.6 1413.5 386.5 1414.1 382.7 1415 381 1416.1 380.2 1417.7 378.5 1419 376 1419.6 373 1419.8 371.4 1420.1 368.4 1420.7 366.7 1421.1 363.3 1421.3 360 1421.8 358.8 1422 356.4 1422.7 354.1 1422.9 350.2 1423.2 348.6 1425.3 346.4 1425.9 348.1 1426.3 353.2 1426.6 354.9 1426.4 356.6 1426.8 359.7 1426.6 360.9 1426.6 364.1 1426.7 366.4 1426.9 367.9 1427.2 370.8 1427.2 372 1427 374.6 1427.3 377.7 1427.5 379.9 1427.2 381.4 1427.2 384.6 1427.4 386.5 1427.4 388.1 1427.9 391.7 1428.1 393.9 1427.9 396.4 1428.3 397.8 1428.3 399.7 1428.2 402.1 1428.4 405.3 1428.7 407.6 1430.4 407.1 1431.7 403.4 1432.6 401.1 1433.9 397.7 1435 397 1435.5 394.5 1436.1 392.6 1436.4 390.2 1437.1 386.5 1438.5 382.7 1440.1 382.3 1440.8 385.4 1441.8 388.6 1441.8 391.3 1442.1 393 1442.4 396.1 1442.4 397.8 1442.8 401.3 1442.5 403.1 1443 405.1 1443 407.6 1443.5 409.5 1444.7 415 1445.1 416 1446.4 412.5 1447.7 411.8 1448.3 409.4 1449.2 404.5 1449.8 403.4 1451.9 402.1 1452 404.8 1452.1 405.7 1452.6 407.9 1452.3 410 1452.4 413.7 1452.5 414.6 1452.9 416.9 1452.8 420.5 1453.3 421.3 1453.2 424.1 1453.3 425.7 1453.6 428.6 1453.9 427.8 1454.8 422.5 1455.4 422.2 1455.7 418.1 1456.5 415.4 1456.6 413.2 1457.4 410.1 1457.8 407.6 1458 405.6 1458.9 402 1459.2 399.4 1459.3 397.4 1459.9 394.8 1460.3 392.8 1461.1 392.6 1462.2 389.9 1463.3 386.5 1464.9 383.1 1466.2 382.3 1466.7 379.6 1467.7 377.8 1468.2 377.3 1468.7 373.8 1469.5 369.4 1470.3 369 1470.5 367.7 1471.3 363.3 1472.3 362.5 1472.9 358.2 1473.8 357 1474.4 353.7 1475 350.9 1475.9 348.6 1476.5 345.6 1476.6 343.6 1477 342.1 1477.4 338.4 1477.7 337.1 1477.9 334.6 1478 331.7 1478.4 330.3 1479 327 1479.4 325.1 1480.1 321.2 1480.2 323.5 1480.4 326.4 1480.9 328.7 1480.7 331.1 1481.2 333.5 1481.4 335.3 1481.7 336.3 1481.6 339.6 1482 341.5 1482.3 344.7 1482.2 346.4 1482.6 343.3 1482.8 340.9 1483.2 338.5 1483.8 336.9 1484.3 333.8 1484.6 329.5 1485.2 329.5 1485.9 325.8 1486.4 323.3 1487.4 327.2 1487.9 328.2 1488.6 331.7 1489.6 331.1 1490.7 327.5 1491.4 332.2 1491.9 333.8 1492.6 330.9 1492.5 328.9 1493.4 326.4 1493.6 323.7 1494 321.2 1494.8 318.2 1494.9 316.5 1495.5 312.7 1496.1 310.6 1496.5 313.8 1496.8 314.5 1496.8 316.6 1497 319.7 1496.9 322 1497.5 324.5 1497.4 327.3 1497.8 328.5 1497.7 331.9 1498.4 334.4 1498.3 335.9 1499.2 333.6 1500.5 332.5 1501.2 329.6 1502.1 326.3 1503.3 324.7 1504.2 323.3 1505 320 1505.9 319.1 1507 315.6 1507.5 314.8 1508.3 314.1 1508.8 310.7 1509.8 308.5 1510.5 304.3 1511.7 307.4 1512.6 308.5 1513.5 310.1 1513.7 311.6 1514.7 314.8 1515.3 312.3 1515.8 310.6 1516.2 307.3 1516.2 304.8 1516.8 302.2 1518.2 300.6 1519.3 298 1520.1 295.1 1520.7 291.8 1521.5 289.8 1522.3 287.4 1525.2 285.3 1525.4 287.8 1526 289.4 1526.6 293.4 1526.8 294.9 1527.3 298 1528 295.9 1529.3 294.2 1529.9 291.7 1530.9 288.4 1532 288.3 1532.8 285.3 1535.8 283.2 1536.5 281.9 1537.2 278.1 1537.4 278.5 1538.3 274.8 1538.8 273.8 1539.1 268 1540 268 1540.4 264.3 1541.1 265.7 1542.1 270.4 1542.5 272.7 1543.1 269.8 1543.2 267.1 1543.7 264.4 1544.1 262.8 1544.6 260 1544.8 256.9 1545.1 254.3 1545.7 252.3 1546 249.6 1546.7 247.6 1546.7 245.3 1547.5 242.6 1547.6 239.9 1548.1 237.7 1548.8 234.8 1549.6 231.4 1551.1 231.3 1551.8 228.4 1553.2 226 1554.7 224.2 1555.7 226 1556.8 228.4 1557.5 231.3 1558.5 231.3 1558.9 234.8 1561.1 232.6 1561.1 235.2 1561.9 238.3 1562.2 239.7 1562.4 243.3 1562.7 244.8 1563.2 247.4 1564 244.8 1564.8 242.7 1565.3 239 1565.7 240.3 1566.5 245.6 1567 247.2 1567.4 249.5 1567.9 251.6 1567.9 254.4 1568 256.1 1568.8 259.9 1568.8 260.6 1569.2 263.9 1569.5 266.4 1570.4 263.7 1570.9 261.6 1571.6 260 1572.5 259.6 1573.2 255.7 1574.1 253.7 1574.9 250.5 1575.4 249.2 1576.2 245.3 1576.7 242.2 1577.5 239.5 1577.7 237.5 1578.3 234.8 1580.4 234.8 1582.1 236.9 1582.4 238.8 1582.4 240.7 1582.2 242.7 1582.7 245.1 1582.5 247.5 1582.6 249.6 1582.9 253.2 1583.2 255.8 1583.3 257.4 1583.4 258.7 1583 261.7 1583.5 264.6 1583.4 266.4 1584.6 263.8 1586.3 262.1 1587.8 261.5 1588.9 257.9 1590.1 256.2 1590.6 252 1591.8 251.6 1592.5 252.3 1593.9 256.6 1594.8 257.9 1596.9 255.8 1596.8 257.3 1597.2 259.8 1597.5 263 1597.6 264.7 1597.3 267.1 1597.4 269 1597.9 272.8 1597.5 274.5 1597.6 275.7 1598.1 278.4 1598.1 280.1 1598.1 283.2 1598 285.9 1598.7 287.7 1598.6 290.2 1598.9 293.1 1599 294.3 1599.4 297.8 1599.4 300 1599.4 300.8 1599.8 303.5 1600.1 305.1 1600.1 308.9 1600.3 310.6 1600.9 307.1 1601.2 305.4 1601.7 303.2 1602.2 300.3 1602.4 298 1602.9 301.3 1602.9 303 1603.1 305 1603.7 308.4 1604.1 310.6 1604.3 313.4 1604.5 314.8 1605.1 316.8 1605.6 319.2 1606.3 321.4 1606.6 325.4 1606.6 327.6 1606.6 330.7 1607.1 333 1607.3 333.6 1607.5 336.7 1607.3 339 1607.2 341.9 1607.4 343.8 1607.5 345.1 1607.9 348.5 1607.9 350.5 1608.2 352.7 1608.3 353.7 1608.2 357.2 1608.4 359.3 1608.7 361.2 1609.3 358.5 1609.7 357.2 1609.8 353.7 1610.2 352 1610.7 348.8 1610.8 346.4 1611.6 343.4 1611.6 341.1 1612.2 339.5 1612.9 335.9 1613.4 334 1614.4 332.5 1614.9 328.9 1615.8 325.4 1617 323.8 1618.4 321.2 1618.9 318.2 1619.1 315.3 1619.6 313 1619.5 312.1 1620.1 308.8 1620.5 306.4 1621.4 305.1 1622.2 301.6 1622.5 298.9 1623.4 298 1623.7 296.7 1624.4 291.9 1624.7 290 1625.4 289.8 1625.7 286.8 1626.4 283.2 1626.6 281.5 1627.3 279 1627.8 276.6 1628.1 273.4 1628.5 270.6 1629 274.6 1629.8 274.3 1630.2 279.6 1630.6 281.1 1630.7 284 1631.3 285.8 1631.6 289.2 1631.8 289.9 1631.9 293.1 1632 294.7 1632.4 297.7 1632.7 300.1 1633 302.1 1633.6 305.1 1633.6 307.6 1634 310.7 1634.8 313.3 1634.8 314.8 1635.4 310.9 1635.8 311.6 1636.2 307.4 1636.7 302.9 1637.3 302.2 1637.6 304 1638.2 307.5 1638.7 310.7 1639.3 312 1639.5 314.8 1641 313.2 1642.4 310.6 1644 314.1 1645.4 314.8 1646.3 316.4 1647.3 318.3 1647.9 321.2 1648.9 317.4 1649 313.9 1650 312.7 1650.2 315.4 1650.6 317.8 1651.4 321 1651.9 323.2 1652.1 325.4 1652.9 325.1 1653.3 322 1654.3 317.3 1655 316.9 1655.6 316.6 1656.2 313 1657.2 310.6 1658.1 312.4 1658.8 315.2 1659.2 315.1 1660.1 319.1 1660.8 320.5 1661.4 322.8 1661.9 326.1 1662.2 329.6 1662.3 331.9 1662.5 335.1 1662.5 336.8 1663.2 339.4 1663.3 340.3 1663.1 342.9 1663.5 345.6 1665 342.4 1666.4 340.1 1667.2 339.3 1667.5 336.9 1667.7 333.1 1668.5 330.9 1669 327.5 1671.9 325.4 1674 327.5 1674.6 329.7 1674.5 331.9 1674.9 334.2 1675.6 337.5 1675.8 339.1 1676.1 342.2 1676.9 340.4 1677.6 337.7 1678.2 335.9 1678.4 332.4 1678.9 330.7 1679.3 328.8 1679.8 326.4 1680.3 323.3 1680.9 319.1 1681.3 317.6 1681.8 316.4 1682.4 312.7 1683.6 311.3 1684.4 308.3 1685.4 306.4 1685.8 309.7 1685.8 310.7 1686.3 312.9 1686.9 315.4 1687 318.5 1687.5 321.2 1690 319.1 1691 317 1691.3 313.9 1692.1 312 1693 310.6 1693.8 310.1 1694.3 306.1 1695 302.6 1695.9 302.2 1696.7 301.4 1697.3 296.7 1697.8 294.2 1698.5 293.8 1701.4 291.7 1702 288.9 1703.2 288.4 1703.7 285.4 1704.8 283.2 1706.2 286 1707.7 287.4 1708 290.7 1708.5 294.2 1709.3 294.3 1709.8 298 1710.3 294 1711.5 293.1 1711.9 289.5 1712.8 286.8 1713.7 286 1714.9 283.2 1715.9 280.7 1716.4 278.7 1717.4 276.9 1719.5 274.8 1719.7 276.3 1720.1 280.4 1720 280.9 1720 284 1720.4 286.7 1720.4 289.3 1720.9 291.9 1720.7 293.3 1720.8 295.6 1721.2 298 1722 300.8 1722.9 302.5 1723.3 304.3 1724 300 1724.1 300.4 1724.6 296 1725.5 294.5 1725.9 291.7 1726.7 288.4 1727.5 285.9 1728.4 282.9 1728.8 281.1 1730 278.8 1731.8 276.9 1732.7 277.5 1733.5 282.5 1734.3 283.2 1734.9 280.1 1734.8 278.7 1735.4 275.6 1735.4 272.4 1736.3 270.6 1736.4 268.5 1737.3 268.3 1738.5 264.3 1739 267.5 1739.3 269.9 1739.6 272.6 1739.9 275 1740.3 275.9 1740.6 279 1741.5 276.8 1742.6 274.3 1743.6 272.7 1744.1 270.4 1745 266.6 1745.7 264.8 1746.5 262.1 1747 260.7 1747.8 258.1 1748.6 255.8 1749.6 259 1750.3 261.1 1751.1 262.1 1754.1 260 1757 260 1759.6 257.9 1760.7 254.3 1761.3 252.6 1761.9 250.6 1762.6 247.6 1763.4 246.3 1765 245 1766.3 242.1 1767 239.4 1767.3 235.8 1767.8 233.7 1768.4 231.6 1768.9 228.7 1768.9 226.8 1769.5 223.2 1769.7 221.1 1770.4 218.8 1770.9 216 1771.4 212.6 1771.6 209.1 1772.1 206.8 1773 206.5 1773.5 202.1 1774.8 200.6 1775.6 197.9 1776.3 196.2 1777 191.7 1778.1 189.5 1778.9 188.5 1779.4 185.2 1780.2 183.2 1782.3 181.1 1782.6 183.1 1783.2 186.5 1783.5 189.3 1783.6 191 1784 193.7 1786.1 191.6 1787.1 188.8 1787.3 186.2 1788.2 185.3 1789.2 181.6 1789.5 181 1790.3 176.8 1791.6 176.1 1792.4 172.6 1792.6 169.9 1793 167.9 1793.6 164 1793.7 162.1 1794.1 159.2 1794.6 157.2 1795.2 152.4 1795.8 151.6 1795.9 148.8 1796.8 146.3 1797.2 143.7 1797.3 141.7 1797.9 138.9 1799.1 135 1800 134.7 1800.6 133.1 1801.6 129.4 1802.1 128.4 1802.6 127.9 1803.6 124.5 1804.2 122.1 1804.2 119.2 1804.8 116.7 1805 114.7 1805 111.2 1805.5 109.5 1806 105.9 1806.8 103.3 1807.2 101.1 1808.7 97.5 1809.7 96.8 1810.6 93 1811.1 90.3 1811.8 88.4 1812.1 85.1 1813.1 83.9 1813.5 80 1814.7 77 1815.6 75.8 1816.5 72.6 1816.8 69.5 1817.6 70.9 1818.5 75.8 1819.4 71.6 1820.2 69.5 1821.3 72.6 1821.9 73.7 1822.4 71.1 1822.8 69.2 1823.6 65.3 1824.6 61.2 1825.3 58.9 1826.6 56 1827.4 53.5 1828.6 54.7 1829.5 56.3 1830.3 61.1" stroke="#0000a8" stroke-width="2" fill="none" stroke-linejoin="round" stroke-linecap="round" shape-rendering="crispEdges"/>
<rect x="1823.2" y="591.8" width="19.9" height="19.9" rx="3.2" fill="#ff8f75"/>
<path d="M1829.5 595.5l1.6 2.6M1836.6 595.5l-1.6 2.6" stroke="#fff" stroke-width="1" stroke-linecap="round" fill="none"/>
<circle cx="1829.5" cy="595.5" r="1.3" fill="#fff"/><circle cx="1836.6" cy="595.5" r="1.3" fill="#fff"/>
<circle cx="1826.7" cy="603.2" r="1.4" fill="#fff"/><circle cx="1839.1" cy="603.2" r="1.4" fill="#fff"/>
<ellipse cx="1832.9" cy="603.3" rx="5.4" ry="5.6" fill="#fff"/>
<rect x="0" y="0" width="1" height="603" fill="#000"/>
<rect x="0" y="602" width="1833" height="1" fill="#000"/>
<rect x="1832" y="0" width="1" height="603" fill="#000"/>
<path d="M40 603h1v1h-1zM80 603h1v1h-1zM120 603h1v1h-1zM160 603h1v1h-1zM200 603h1v1h-1zM240 603h1v1h-1zM280 603h1v1h-1zM320 603h1v1h-1zM360 603h1v1h-1zM400 603h1v1h-1zM440 603h1v1h-1zM480 603h1v1h-1zM520 603h1v1h-1zM560 603h1v1h-1zM600 603h1v1h-1zM640 603h1v1h-1zM680 603h1v1h-1zM720 603h1v1h-1zM760 603h1v1h-1zM800 603h1v1h-1zM840 603h1v1h-1zM880 603h1v1h-1zM920 603h1v1h-1zM960 603h1v1h-1zM1000 603h1v1h-1zM1040 603h1v1h-1zM1080 603h1v1h-1zM1120 603h1v1h-1zM1160 603h1v1h-1zM1200 603h1v1h-1zM1240 603h1v1h-1zM1280 603h1v1h-1zM1320 603h1v1h-1zM1360 603h1v1h-1zM1400 603h1v1h-1zM1440 603h1v1h-1zM1480 603h1v1h-1zM1520 603h1v1h-1zM1560 603h1v1h-1zM1600 603h1v1h-1zM1640 603h1v1h-1zM1680 603h1v1h-1zM1720 603h1v1h-1zM1760 603h1v1h-1zM1800 603h1v1h-1zM1833 1h1v1h-1zM1833 41h1v1h-1zM1833 81h1v1h-1zM1833 121h1v1h-1zM1833 161h1v1h-1zM1833 201h1v1h-1zM1833 241h1v1h-1zM1833 281h1v1h-1zM1833 321h1v1h-1zM1833 361h1v1h-1zM1833 401h1v1h-1zM1833 441h1v1h-1zM1833 481h1v1h-1zM1833 521h1v1h-1zM1833 561h1v1h-1z" fill="#000" shape-rendering="crispEdges"/>
<text x="1849" y="607" style="font-family:'Liberation Serif',serif;font-weight:bold;font-size:15px" fill="#ff9478" stroke="#ff9478" stroke-width="0.4" textLength="36" lengthAdjust="spacingAndGlyphs">EAHub</text>
<g class="ax">
<text x="1.5" y="616">0</text>
<text x="40.1" y="616" text-anchor="end">51</text>
<text x="80.1" y="616" text-anchor="end">97</text>
<text x="120.1" y="616" text-anchor="end">144</text>
<text x="160.1" y="616" text-anchor="end">190</text>
<text x="200.1" y="616" text-anchor="end">237</text>
<text x="240.1" y="616" text-anchor="end">283</text>
<text x="280.1" y="616" text-anchor="end">330</text>
<text x="320.1" y="616" text-anchor="end">376</text>
<text x="360.1" y="616" text-anchor="end">422</text>
<text x="400.1" y="616" text-anchor="end">469</text>
<text x="440.1" y="616" text-anchor="end">515</text>
<text x="480.1" y="616" text-anchor="end">562</text>
<text x="520.1" y="616" text-anchor="end">608</text>
<text x="560.1" y="616" text-anchor="end">655</text>
<text x="600.1" y="616" text-anchor="end">701</text>
<text x="640.1" y="616" text-anchor="end">747</text>
<text x="680.1" y="616" text-anchor="end">794</text>
<text x="720.1" y="616" text-anchor="end">840</text>
<text x="760.1" y="616" text-anchor="end">887</text>
<text x="800.1" y="616" text-anchor="end">933</text>
<text x="840.1" y="616" text-anchor="end">979</text>
<text x="880.1" y="616" text-anchor="end">1026</text>
<text x="920.1" y="616" text-anchor="end">1072</text>
<text x="960.1" y="616" text-anchor="end">1119</text>
<text x="1000.1" y="616" text-anchor="end">1165</text>
<text x="1040.1" y="616" text-anchor="end">1212</text>
<text x="1080.1" y="616" text-anchor="end">1258</text>
<text x="1120.1" y="616" text-anchor="end">1304</text>
<text x="1160.1" y="616" text-anchor="end">1351</text>
<text x="1200.1" y="616" text-anchor="end">1397</text>
<text x="1240.1" y="616" text-anchor="end">1444</text>
<text x="1280.1" y="616" text-anchor="end">1490</text>
<text x="1320.1" y="616" text-anchor="end">1536</text>
<text x="1360.1" y="616" text-anchor="end">1583</text>
<text x="1400.1" y="616" text-anchor="end">1629</text>
<text x="1440.1" y="616" text-anchor="end">1676</text>
<text x="1480.1" y="616" text-anchor="end">1722</text>
<text x="1520.1" y="616" text-anchor="end">1769</text>
<text x="1560.1" y="616" text-anchor="end">1815</text>
<text x="1600.1" y="616" text-anchor="end">1861</text>
<text x="1640.1" y="616" text-anchor="end">1908</text>
<text x="1680.1" y="616" text-anchor="end">1954</text>
<text x="1720.1" y="616" text-anchor="end">2001</text>
<text x="1760.1" y="616" text-anchor="end">2047</text>
<text x="1800.1" y="616" text-anchor="end">2094</text>
<text x="1838" y="7">1037</text>
<text x="1838" y="47">1033</text>
<text x="1838" y="87">1028</text>
<text x="1838" y="127">1023</text>
<text x="1838" y="167">1019</text>
<text x="1838" y="207">1014</text>
<text x="1838" y="247">1010</text>
<text x="1838" y="287">1005</text>
<text x="1838" y="327">1001</text>
<text x="1838" y="367">996</text>
<text x="1838" y="407">991</text>
<text x="1838" y="447">987</text>
<text x="1838" y="487">982</text>
<text x="1838" y="527">978</text>
<text x="1838" y="567">973</text>
<text x="1838" y="608">969</text>
</g>
<rect x="1" y="2" width="518" height="16" fill="#fff"/>
<g aria-label="余额 / 净值 / 每个即时价格(基于所有可利用的最小时段的每一个价格的分形插值计算) / 90.00%">
<text x="4.5" y="14.7" fill="#0000c0" style="font-family:'Liberation Sans','Noto Sans CJK SC',sans-serif;font-size:12px" textLength="24" lengthAdjust="spacingAndGlyphs">余额</text>
<text x="41.5" y="14.7" fill="#00a000" style="font-family:'Liberation Sans','Noto Sans CJK SC',sans-serif;font-size:12px" textLength="24" lengthAdjust="spacingAndGlyphs">净值</text>
<text x="79" y="14.7" fill="#000" style="font-family:'Liberation Sans','Noto Sans CJK SC',sans-serif;font-size:12px" textLength="72" lengthAdjust="spacingAndGlyphs">每个即时价格</text>
<text x="155.3" y="14.7" fill="#000" style="font-family:'Liberation Sans','Noto Sans CJK SC',sans-serif;font-size:12px" textLength="300" lengthAdjust="spacingAndGlyphs">基于所有可利用的最小时段的每一个价格的分形插值计算</text>
<g fill="#000"><g style="font-size:16px"><text x="32.8" y="16">/</text><text x="69.8" y="16">/</text><text x="465.3" y="16">/</text></g><g style="font-size:12.8px"><text x="151.2" y="13.7">(</text><text x="455.6" y="13.7">)</text></g><text x="474.2" y="14" style="font-size:12px" textLength="44" lengthAdjust="spacingAndGlyphs">90.00%</text></g>
</g>
<g aria-label="131313：GBPUSD5min $1000起跑 20150101-20211101 默认参数 点差固定25小点 固定0.01手">
<text x="498.5" y="112.6" fill="#ff2010" style="font-family:'Liberation Sans','Noto Sans CJK SC',sans-serif;font-size:34px" textLength="853" lengthAdjust="spacing">131313：GBPUSD5min $1000起跑 20150101-20211101</text>
<text x="498" y="156.3" fill="#ff2010" style="font-family:'Liberation Sans','Noto Sans CJK SC',sans-serif;font-size:34px" textLength="550" lengthAdjust="spacing">默认参数 点差固定25小点 固定0.01手</text>
</g>
<g>
<path d="M1894 511.5h-8.5a4 4 0 0 0-4 4v64.5a4 4 0 0 0 4 4h8.5z" fill="#585d70" stroke="#3f4352" stroke-width="1"/>
<rect x="1886" y="520.0" width="5.3" height="1.5" fill="#3b404c"/>
<rect x="1886" y="522.5" width="5.3" height="1.5" fill="#3b404c"/>
<rect x="1886" y="525.0" width="5.3" height="1.5" fill="#3b404c"/>
<rect x="1886" y="527.5" width="5.3" height="1.5" fill="#3b404c"/>
<rect x="1886" y="530.0" width="5.3" height="1.5" fill="#3b404c"/>
<rect x="1886" y="532.5" width="5.3" height="1.5" fill="#3b404c"/>
<rect x="1886" y="535.0" width="5.3" height="1.5" fill="#3b404c"/>
<rect x="1886" y="537.5" width="5.3" height="1.5" fill="#3b404c"/>
<rect x="1886" y="540.0" width="5.3" height="1.5" fill="#3b404c"/>
<rect x="1886" y="542.5" width="5.3" height="1.5" fill="#d9b94a"/>
<rect x="1886" y="545.0" width="5.3" height="1.5" fill="#d8c84c"/>
<rect x="1886" y="547.5" width="5.3" height="1.5" fill="#d0d050"/>
<rect x="1886" y="550.0" width="5.3" height="1.5" fill="#b8cc50"/>
<rect x="1886" y="552.5" width="5.3" height="1.5" fill="#a0c858"/>
<rect x="1886" y="555.0" width="5.3" height="1.5" fill="#88c060"/>
<rect x="1886" y="557.5" width="5.3" height="1.5" fill="#70bc68"/>
<rect x="1886" y="560.0" width="5.3" height="1.5" fill="#5cb870"/>
<rect x="1886" y="562.5" width="5.3" height="1.5" fill="#50b480"/>
<rect x="1886" y="565.0" width="5.3" height="1.5" fill="#48b090"/>
<rect x="1886" y="567.5" width="5.3" height="1.5" fill="#40b0a0"/>
<rect x="1886" y="570.0" width="5.3" height="1.5" fill="#38b4a8"/>
<rect x="1886" y="572.5" width="5.3" height="1.5" fill="#30c0b0"/>
<rect x="1886" y="575.0" width="5.3" height="1.5" fill="#2cc8b8"/>
</g>
<g>
<rect x="1825.3" y="602" width="3.8" height="1" fill="#fff" opacity="0.7"/>
<rect x="1829.1" y="601.1" width="7.9" height="3.7" rx="1.85" fill="#ff8f75" opacity="0.8"/>
<circle cx="1831.3" cy="603" r="0.75" fill="#fff"/><circle cx="1835" cy="603" r="0.75" fill="#fff"/>
</g>
</svg>
<div class="sr">余额 / 净值 / 每个即时价格(基于所有可利用的最小时段的每一个价格的分形插值计算) / 90.00% 131313：GBPUSD5min $1000起跑 20150101-20211101 默认参数 点差固定25小点 固定0.01手</div>
</body></html>
